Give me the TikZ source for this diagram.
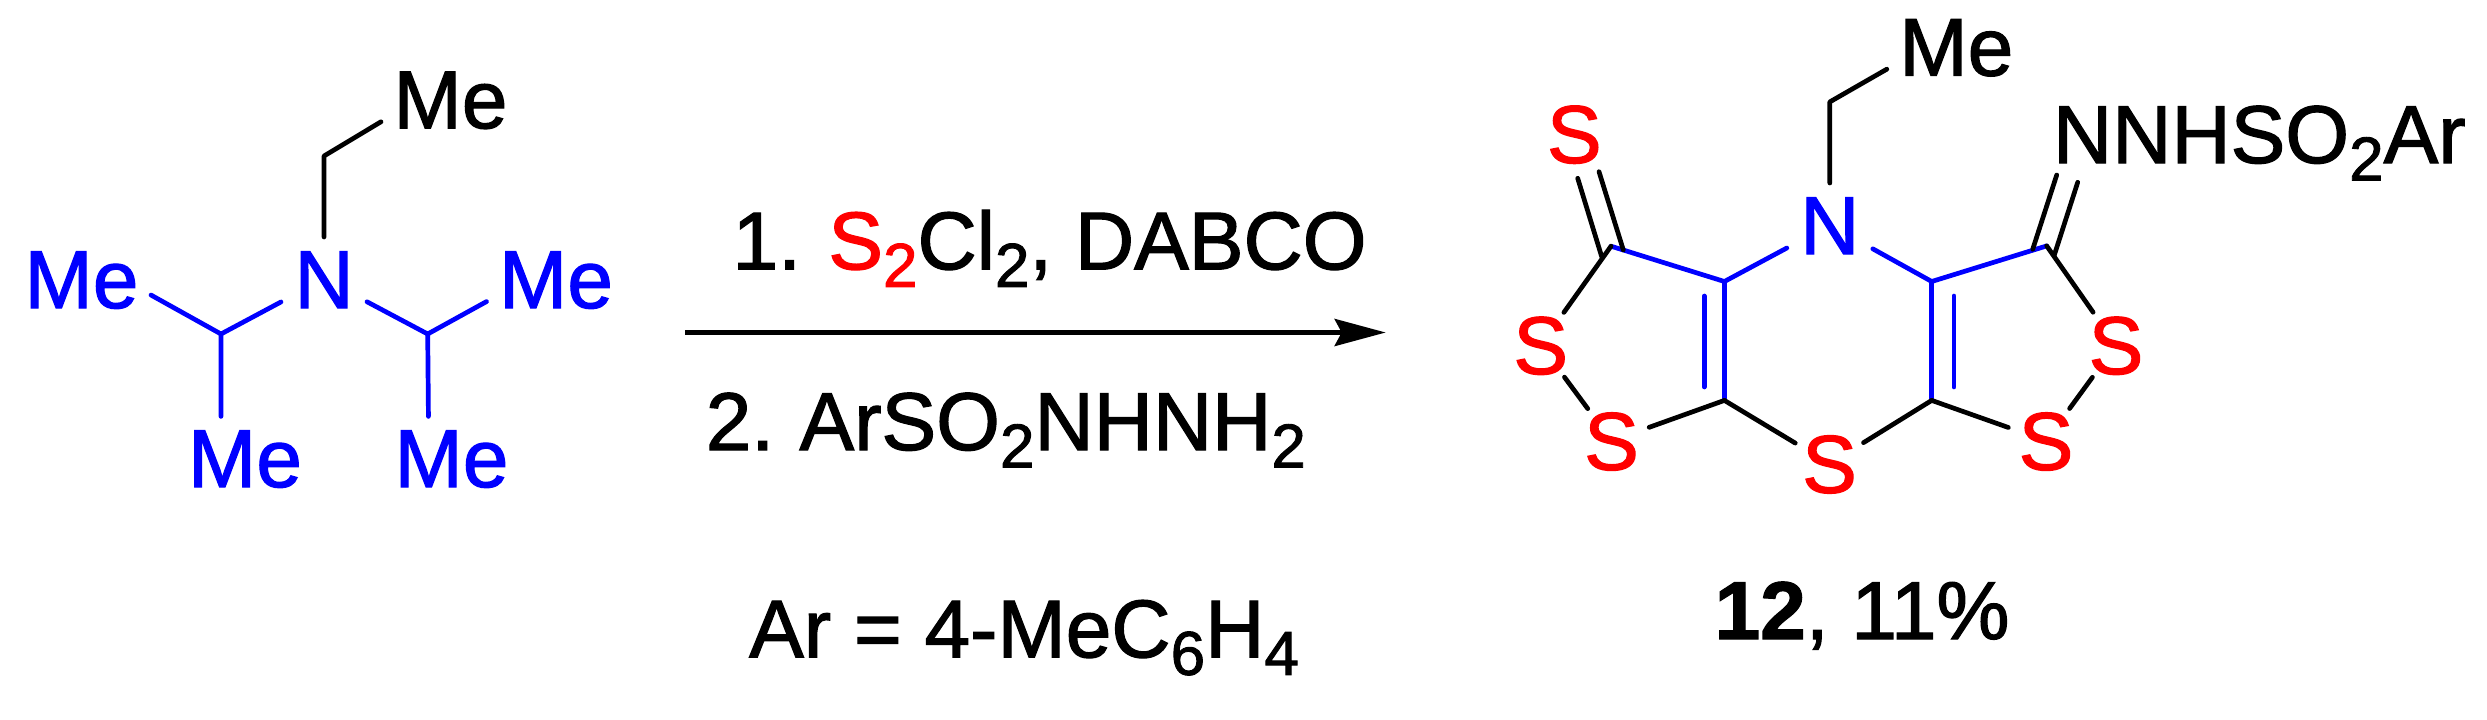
\documentclass[tikz,border=0pt]{standalone}
\usepackage{fontspec}
\setmainfont[FakeBold=1.5]{Liberation Sans}
\usetikzlibrary{arrows.meta}
\definecolor{atomblue}{HTML}{0000FF}
\definecolor{atomred}{HTML}{FF0000}
\newcommand{\labfont}{\fontsize{82}{90}\selectfont}
\newcommand{\subn}[1]{\raisebox{-17.5pt}{\fontsize{62}{62}\selectfont #1}}
\tikzset{
  bond/.style={line width=4.7pt,line cap=round,line join=round,draw=black},
  bluebond/.style={bond,draw=atomblue},
  atomlab/.style={inner sep=0pt,outer sep=0pt,font=\labfont,text height=58pt,text depth=0pt},
  melab/.style={atomlab,rectangle,minimum width=139pt,minimum height=83.2pt},
  nlab/.style={atomlab,rectangle,minimum width=86pt,minimum height=84pt,text=atomblue},
  slab/.style={atomlab,circle,minimum size=80pt,text=atomred},
  textlab/.style={inner sep=0pt,outer sep=0pt,font=\labfont,anchor=base},
  rxnarrow/.style={line width=5pt,-{Stealth[length=51pt,width=27pt,inset=7pt]}}
}
\begin{document}
\begin{tikzpicture}[x=1pt,y=-1pt]
\useasboundingbox (0,0) rectangle (2487,720);
% reactant
\coordinate (ch2a) at (324,156);
\coordinate (c1) at (221,334);
\coordinate (c2) at (427.7,334);
\node[melab] (meTop) at (450.5,99.2) {Me};
\node[nlab] (nA) at (324,279) {N};
\node[melab,text=atomblue] (meL) at (81.5,279) {Me};
\node[melab,text=atomblue] (meR) at (556,279) {Me};
\node[melab,text=atomblue] (meBL) at (245,458) {Me};
\node[melab,text=atomblue] (meBR) at (451.5,458) {Me};
\draw[bond] (nA) -- (ch2a) -- (meTop.198.9);
\draw[bluebond] (meL.-13) -- (c1) -- (nA);
\draw[bluebond] (meBL.120) -- (c1);
\draw[bluebond] (nA) -- (c2) -- (meR.198);
\draw[bluebond] (meBR.119.5) -- (c2);
% arrow
\coordinate (arrS) at (685.2,332.5);
\coordinate (arrE) at (1385.7,332.5);
\draw[rxnarrow] (arrS) -- (arrE);
% reaction text
\node[textlab] (t1) at (1049.6,269.3) {1.\hspace{-3pt} {\color{atomred}S\subn{2}}Cl\subn{2}, DABCO};
\node[textlab] (t2) at (1005.8,450) {2.\hspace{-5pt} ArSO\subn{2}NHNH\subn{2}};
\node[textlab] (t3) at (1024,657.3) {Ar = 4-MeC\subn{6}H\subn{4}};
% product
\coordinate (ch2b) at (1829.8,101.9);
\coordinate (ca) at (1611,246.2);
\coordinate (ce) at (2046.7,245.9);
\coordinate (cb) at (1724.4,281.5);
\coordinate (cc) at (1931.7,281.5);
\coordinate (cd) at (1724.4,400.4);
\coordinate (cf) at (1931.7,400.4);
\node[melab] (meP) at (1956.3,46.6) {Me};
\node[nlab] (nB) at (1829.8,225) {N};
\node[slab] (sT) at (1574.3,133.9) {S};
\node[slab] (sL) at (1540.7,345) {S};
\node[slab] (sLL) at (1611.5,440.8) {S};
\node[slab] (sB) at (1829.5,463.7) {S};
\node[slab] (sLR) at (2046,440.8) {S};
\node[slab] (sR) at (2116,345) {S};
\node[textlab,anchor=base west] (hyd) at (2053,163) {NNHSO\subn{2}Ar};
\node[textlab] (cap) at (1862,639) {\textbf{12}, 11\%};
\draw[bond] (nB) -- (ch2b) -- (meP.198);
\draw[bluebond] (ca) -- (cb) -- (nB);
\draw[bluebond] (nB) -- (cc) -- (ce);
\draw[bluebond] (cb) -- (cd);
\draw[bluebond] (cc) -- (cf);
\coordinate (i1a) at (1704.3,296);
\coordinate (i1b) at (1704.3,387);
\coordinate (i2a) at (1953.9,296);
\coordinate (i2b) at (1953.9,387);
\draw[bluebond] (i1a) -- (i1b);
\draw[bluebond] (i2a) -- (i2b);
\draw[bond] (sL) -- (ca);
\draw[bond] (sL) -- (sLL);
\draw[bond] (sLL) -- (cd);
\draw[bond] (cd) -- (sB);
\draw[bond] (sB) -- (cf);
\draw[bond] (cf) -- (sLR);
\draw[bond] (sLR) -- (sR);
\draw[bond] (sR) -- (ce);
\coordinate (tA1) at (1577.7,178.3);
\coordinate (tA2) at (1601.7,256.7);
\coordinate (tB1) at (1599,171.7);
\coordinate (tB2) at (1623.3,250);
\draw[bond] (tA1) -- (tA2);
\draw[bond] (tB1) -- (tB2);
\coordinate (hA1) at (2056.7,175);
\coordinate (hA2) at (2032.7,249.3);
\coordinate (hB1) at (2077.7,182.3);
\coordinate (hB2) at (2054,256);
\draw[bond] (hA1) -- (hA2);
\draw[bond] (hB1) -- (hB2);
\end{tikzpicture}
\end{document}
